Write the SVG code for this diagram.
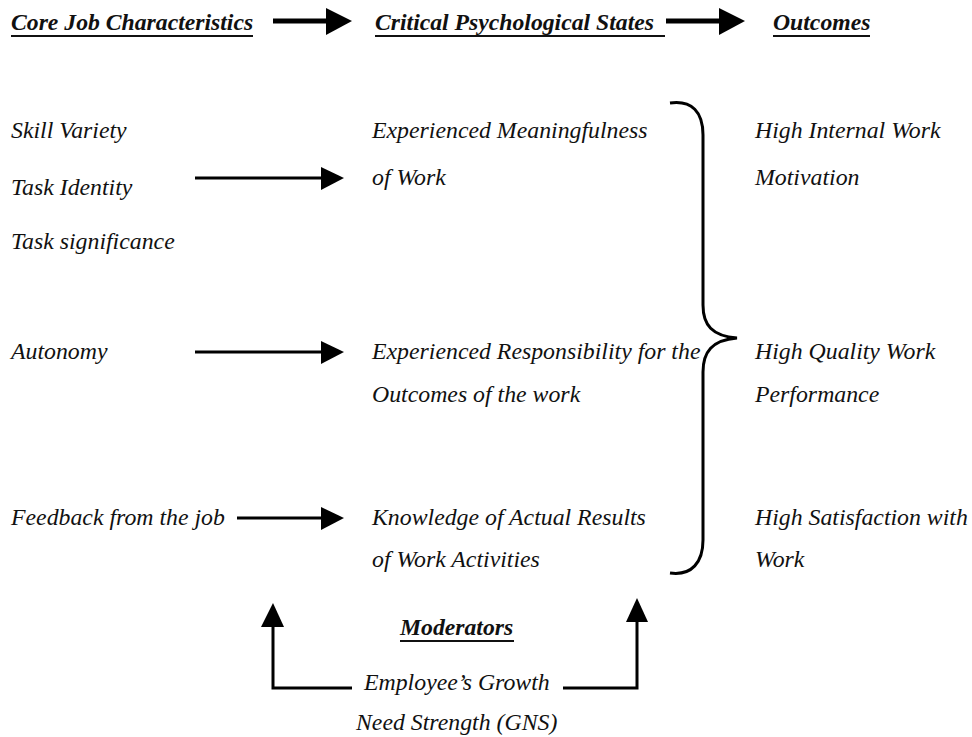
<svg xmlns="http://www.w3.org/2000/svg" width="972" height="737" viewBox="0 0 972 737">
<defs>
<style>
text{font-family:"Liberation Serif","Times New Roman",serif;font-style:italic;font-size:23.8px;fill:#111}
.h{font-weight:bold;font-size:23.7px}
.ul{stroke:#111;stroke-width:2}
.ln{stroke:#000;stroke-width:3;fill:none}
.thick{stroke:#000;stroke-width:5;fill:none}
.hd{fill:#000}
</style>
</defs>
<rect width="972" height="737" fill="#fff"/>
<g id="headers">
<g id="h-core"><text class="h" x="11" y="30">Core Job Characteristics</text><line class="ul" x1="11" y1="36" x2="253" y2="36"/></g>
<g id="h-critical"><text class="h" x="375" y="30">Critical Psychological States</text><line class="ul" x1="375" y1="36" x2="665" y2="36"/></g>
<g id="h-outcomes"><text class="h" x="773" y="30">Outcomes</text><line class="ul" x1="773" y1="36" x2="870" y2="36"/></g>
</g>
<g id="core">
<g id="skill"><text x="11" y="138">Skill Variety</text></g>
<g id="identity"><text x="11" y="195">Task Identity</text></g>
<g id="significance"><text x="11" y="249">Task significance</text></g>
<g id="autonomy"><text x="11" y="359">Autonomy</text></g>
<g id="feedback"><text x="11" y="525">Feedback from the job</text></g>
</g>
<g id="states">
<g id="meaning"><text x="372" y="138">Experienced Meaningfulness</text><text x="372" y="185">of Work</text></g>
<g id="responsibility"><text x="372" y="359">Experienced Responsibility for the</text><text x="372" y="402">Outcomes of the work</text></g>
<g id="knowledge"><text x="372" y="525">Knowledge of Actual Results</text><text x="372" y="567">of Work Activities</text></g>
</g>
<g id="outcomes">
<g id="motivation"><text x="755" y="138">High Internal Work</text><text x="755" y="185">Motivation</text></g>
<g id="quality"><text x="755" y="359">High Quality Work</text><text x="755" y="402">Performance</text></g>
<g id="satisfaction"><text x="755" y="525">High Satisfaction with</text><text x="755" y="567">Work</text></g>
</g>
<g id="moderators">
<text class="h" x="400" y="635">Moderators</text><line class="ul" x1="400" y1="641" x2="514" y2="641"/>
<text x="364" y="690">Employee’s Growth</text>
<text x="356" y="730">Need Strength (GNS)</text>
</g>
<g id="connectors">
<line class="thick" x1="273" y1="21" x2="328" y2="21"/><polygon class="hd" points="326,8 352,21 326,35"/>
<line class="thick" x1="666" y1="21" x2="721" y2="21"/><polygon class="hd" points="719,8 745,21 719,35"/>
<line class="ln" x1="195" y1="178" x2="324" y2="178"/><polygon class="hd" points="321,167 344,178 321,190"/>
<line class="ln" x1="195" y1="352" x2="324" y2="352"/><polygon class="hd" points="321,341 344,352 321,364"/>
<line class="ln" x1="237" y1="518" x2="324" y2="518"/><polygon class="hd" points="321,507 344,518 321,530"/>
<path class="ln" d="M670,103 C692,100 703,112 703,135 L703,305 C703,325 712,336 737,338 C712,340 703,352 703,372 L703,540 C703,562 692,576 670,573"/>
<polyline class="ln" points="352,688 273,688 273,622"/><polygon class="hd" points="261,627 273,603 284,627"/>
<polyline class="ln" points="563,688 637,688 637,617"/><polygon class="hd" points="626,622 637,598 648,622"/>
</g>
</svg>
